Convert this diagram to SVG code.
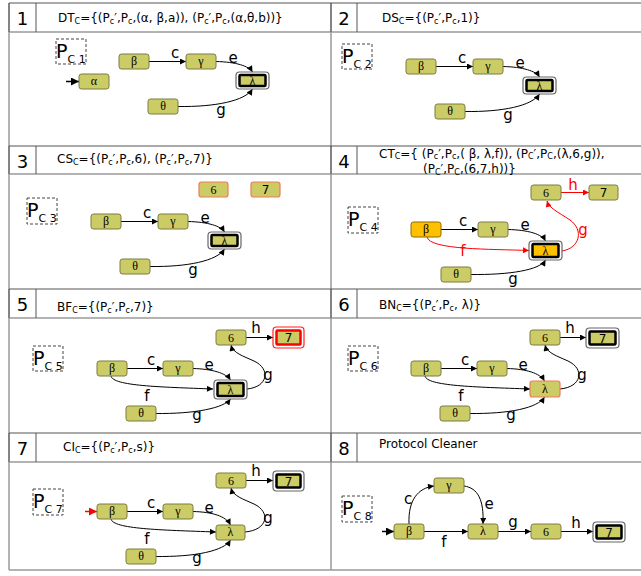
<svg xmlns="http://www.w3.org/2000/svg" width="641" height="576" viewBox="0 0 641 576">
<style>
.bg{fill:#fff}
.grid{stroke:#9a9a9a;stroke-width:1.5;fill:none}
.hdr{stroke:#555;stroke-width:1;fill:none}
.n{fill:#cccc66;stroke:#7a7a40;stroke-width:1}
.no{fill:#ffc000;stroke:#8a6a00;stroke-width:1}
.nr{fill:#cccc66;stroke:#f07a5a;stroke-width:1.2}
.fo{fill:#fff;stroke:#666;stroke-width:1.2}
.fi{fill:#cccc66;stroke:#000;stroke-width:2.5}
.fio{fill:#ffc000;stroke:#000;stroke-width:2.5}
.fro{fill:#fff;stroke:#ff2020;stroke-width:1.2}
.fri{fill:#cccc66;stroke:#ff0000;stroke-width:2.5}
.nt{font-family:"Liberation Serif",serif;font-size:12px;text-anchor:middle}
.ns{font-family:"DejaVu Sans",sans-serif;font-size:12px;text-anchor:middle}
.e{fill:none;stroke:#000;stroke-width:1;marker-end:url(#a)}
.er{fill:none;stroke:#ff0000;stroke-width:1;marker-end:url(#ar)}
.l{font-family:"DejaVu Sans",sans-serif;font-size:15px;text-anchor:middle}
.lr{font-family:"DejaVu Sans",sans-serif;font-size:15px;text-anchor:middle;fill:#ff0000}
.h{font-family:"DejaVu Sans",sans-serif;font-size:12px}
.num{font-family:"DejaVu Sans",sans-serif;font-size:18px;text-anchor:middle}
.pc{fill:none;stroke:#444;stroke-width:1;stroke-dasharray:3,2}
.pP{font-family:"DejaVu Sans",sans-serif;font-size:19px}
.pS{font-size:11px}
</style>
<defs>
<marker id="a" viewBox="0 0 10 10" refX="10" refY="5" markerWidth="7" markerHeight="6" markerUnits="userSpaceOnUse" orient="auto"><path d="M0,0 L10,5 L0,10 z" fill="#000"/></marker>
<marker id="ar" viewBox="0 0 10 10" refX="10" refY="5" markerWidth="7" markerHeight="6" markerUnits="userSpaceOnUse" orient="auto"><path d="M0,0 L10,5 L0,10 z" fill="#ff0000"/></marker>
<marker id="s" viewBox="0 0 10 10" refX="10" refY="5" markerWidth="8" markerHeight="8" markerUnits="userSpaceOnUse" orient="auto"><path d="M0,0 L10,5 L0,10 z" fill="#000"/></marker>
<marker id="sr" viewBox="0 0 10 10" refX="10" refY="5" markerWidth="8" markerHeight="8" markerUnits="userSpaceOnUse" orient="auto"><path d="M0,0 L10,5 L0,10 z" fill="#ff0000"/></marker>
</defs>
<rect class="bg" x="0" y="0" width="641" height="576"/>

<g id="grid">
<path class="grid" d="M9,3 V570 M331,3 V570 M9,570 H641"/>
<path class="hdr" d="M9,3 H641 M9,146 H641 M9,289 H641 M9,433 H641"/>
<path class="grid" d="M9,32 H641 M9,174 H641 M9,318 H641 M9,462 H641"/>
<path class="hdr" d="M36,3 V32 M357,3 V32 M36,146 V174 M357,146 V174 M36,289 V318 M357,289 V318 M36,433 V462 M357,433 V462 M9,3 V32 M9,146 V174 M9,289 V318 M9,433 V462 M331,3 V32 M331,146 V174 M331,289 V318 M331,433 V462"/>
</g>

<g id="headers">
<text class="num" x="22.5" y="25">1</text>
<text class="num" x="344" y="25">2</text>
<text class="num" x="22.5" y="168">3</text>
<text class="num" x="344" y="168">4</text>
<text class="num" x="22.5" y="311">5</text>
<text class="num" x="344" y="311">6</text>
<text class="num" x="22.5" y="455">7</text>
<text class="num" x="344" y="455">8</text>
<text class="h" x="58" y="22">DT<tspan font-size="8" dy="2">C</tspan><tspan dy="-2">={(P</tspan><tspan font-size="8" dy="2">c</tspan><tspan dy="-2">′,P</tspan><tspan font-size="8" dy="2">c</tspan><tspan dy="-2">,(α, β,a)), (P</tspan><tspan font-size="8" dy="2">c</tspan><tspan dy="-2">′,P</tspan><tspan font-size="8" dy="2">c</tspan><tspan dy="-2">,(α,θ,b))}</tspan></text>
<text class="h" x="382" y="22">DS<tspan font-size="8" dy="2">C</tspan><tspan dy="-2">={(P</tspan><tspan font-size="8" dy="2">c</tspan><tspan dy="-2">′,P</tspan><tspan font-size="8" dy="2">c</tspan><tspan dy="-2">,1)}</tspan></text>
<text class="h" x="57" y="163">CS<tspan font-size="8" dy="2">C</tspan><tspan dy="-2">={(P</tspan><tspan font-size="8" dy="2">c</tspan><tspan dy="-2">′,P</tspan><tspan font-size="8" dy="2">c</tspan><tspan dy="-2">,6), (P</tspan><tspan font-size="8" dy="2">c</tspan><tspan dy="-2">′,P</tspan><tspan font-size="8" dy="2">c</tspan><tspan dy="-2">,7)}</tspan></text>
<text class="h" x="379" y="157.5">CT<tspan font-size="8" dy="1.5">C</tspan><tspan dy="-1.5">={ (P</tspan><tspan font-size="8" dy="1.5">c</tspan><tspan dy="-1.5">′,P</tspan><tspan font-size="8" dy="1.5">c</tspan><tspan dy="-1.5">,( β, λ,f)), (P</tspan><tspan font-size="8" dy="1.5">C</tspan><tspan dy="-1.5">′,P</tspan><tspan font-size="8" dy="1.5">C</tspan><tspan dy="-1.5">,(λ,6,g)),</tspan></text>
<text class="h" x="423" y="173">(P<tspan font-size="8" dy="1.5">C</tspan><tspan dy="-1.5">′,P</tspan><tspan font-size="8" dy="1.5">C</tspan><tspan dy="-1.5">,(6,7,h))}</tspan></text>
<text class="h" x="57" y="311">BF<tspan font-size="8" dy="2">C</tspan><tspan dy="-2">={(P</tspan><tspan font-size="8" dy="2">c</tspan><tspan dy="-2">′,P</tspan><tspan font-size="8" dy="2">c</tspan><tspan dy="-2">,7)}</tspan></text>
<text class="h" x="379" y="309">BN<tspan font-size="8" dy="2">C</tspan><tspan dy="-2">={(P</tspan><tspan font-size="8" dy="2">c</tspan><tspan dy="-2">′,P</tspan><tspan font-size="8" dy="2">c</tspan><tspan dy="-2">, λ)}</tspan></text>
<text class="h" x="63" y="451">CI<tspan font-size="8" dy="2">C</tspan><tspan dy="-2">={(P</tspan><tspan font-size="8" dy="2">c</tspan><tspan dy="-2">′,P</tspan><tspan font-size="8" dy="2">c</tspan><tspan dy="-2">,s)}</tspan></text>
<text class="h" x="379" y="448">Protocol Cleaner</text>
</g>

<!-- Panel 1 -->
<g id="panel1">
<g id="p1-connectors">
<path class="e" d="M66,81.5 L79,81.5" style="marker-end:url(#s);stroke-width:1.5"/>
<path class="e" d="M149,61.5 L186,61.5"/>
<path class="e" d="M216,61.5 C236,62 249,66 252.5,72"/>
<path class="e" d="M178,106.5 C215,107 245,101 252.5,89"/>
<text class="l" x="175" y="58">c</text>
<text class="l" x="233" y="63">e</text>
<text class="l" x="221" y="115">g</text>
</g>
<g id="p1-pc"><rect class="pc" x="56" y="39" width="30" height="25"/><text class="pP" x="56" y="58">P<tspan class="pS" dy="5">C 1</tspan></text></g>
<g id="p1-alpha"><rect class="n" x="79" y="74" width="30" height="15" rx="2.5"/><text class="nt" x="94" y="85">α</text></g>
<g id="p1-beta"><rect class="n" x="119" y="54" width="30" height="15" rx="2.5"/><text class="nt" x="134" y="65">β</text></g>
<g id="p1-gamma"><rect class="n" x="186" y="54" width="30" height="15" rx="2.5"/><text class="nt" x="201" y="65">γ</text></g>
<g id="p1-lambda"><rect class="fo" x="236" y="72" width="33" height="17" rx="3.5"/><rect class="fi" x="239.5" y="75" width="26" height="11" rx="1"/><text class="nt" x="252.5" y="84.5">λ</text></g>
<g id="p1-theta"><rect class="n" x="148" y="99" width="30" height="15" rx="2.5"/><text class="nt" x="163" y="110">θ</text></g>
</g>

<!-- Panel 2 -->
<g id="panel2" transform="translate(287,5)">
<g id="p2-connectors">
<path class="e" d="M149,61.5 L186,61.5"/>
<path class="e" d="M216,61.5 C236,62 249,66 252.5,72"/>
<path class="e" d="M178,106.5 C215,107 245,101 252.5,89"/>
<text class="l" x="175" y="58">c</text>
<text class="l" x="233" y="63">e</text>
<text class="l" x="221" y="115">g</text>
</g>
<g id="p2-pc"><rect class="pc" x="55" y="39" width="30" height="25"/><text class="pP" x="55" y="58">P<tspan class="pS" dy="5">C 2</tspan></text></g>
<g id="p2-beta"><rect class="n" x="119" y="54" width="30" height="15" rx="2.5"/><text class="nt" x="134" y="65">β</text></g>
<g id="p2-gamma"><rect class="n" x="186" y="54" width="30" height="15" rx="2.5"/><text class="nt" x="201" y="65">γ</text></g>
<g id="p2-lambda"><rect class="fo" x="236" y="72" width="33" height="17" rx="3.5"/><rect class="fi" x="239.5" y="75" width="26" height="11" rx="1"/><text class="nt" x="252.5" y="84.5">λ</text></g>
<g id="p2-theta"><rect class="n" x="148" y="99" width="30" height="15" rx="2.5"/><text class="nt" x="163" y="110">θ</text></g>
</g>

<!-- Panel 3 -->
<g id="panel3" transform="translate(-28,160)">
<g id="p3-connectors">
<path class="e" d="M149,61.5 L186,61.5"/>
<path class="e" d="M216,61.5 C236,62 249,66 252.5,72"/>
<path class="e" d="M178,106.5 C215,107 245,101 252.5,89"/>
<text class="l" x="175" y="58">c</text>
<text class="l" x="233" y="63">e</text>
<text class="l" x="221" y="115">g</text>
</g>
<g id="p3-pc"><rect class="pc" x="55" y="38" width="30" height="26"/><text class="pP" x="55" y="57">P<tspan class="pS" dy="5">C 3</tspan></text></g>
<g id="p3-beta"><rect class="n" x="119" y="54" width="30" height="15" rx="2.5"/><text class="nt" x="134" y="65">β</text></g>
<g id="p3-gamma"><rect class="n" x="186" y="54" width="30" height="15" rx="2.5"/><text class="nt" x="201" y="65">γ</text></g>
<g id="p3-lambda"><rect class="fo" x="236" y="72" width="33" height="17" rx="3.5"/><rect class="fi" x="239.5" y="75" width="26" height="11" rx="1"/><text class="nt" x="252.5" y="84.5">λ</text></g>
<g id="p3-theta"><rect class="n" x="148" y="99" width="30" height="15" rx="2.5"/><text class="nt" x="163" y="110">θ</text></g>
<g id="p3-6"><rect class="nr" x="227" y="22" width="29" height="15" rx="2.5"/><text class="nt" x="241.5" y="33.5">6</text></g>
<g id="p3-7"><rect class="nr" x="279" y="22" width="29" height="15" rx="2.5"/><text class="ns" x="293.5" y="34">7</text></g>
</g>

<!-- Panel 4 -->
<g id="panel4">
<g id="p4-connectors">
<path class="e" d="M441,229.5 L478,229.5"/>
<path class="e" d="M508,229.5 C528,230 542,234 545.5,241"/>
<path class="e" d="M470,274.5 C510,275 540,270 545.5,260"/>
<path class="er" d="M427,237 C430,250 490,249 529,250.5"/>
<path class="er" d="M562,251 C580,248 584,230 570,220 C558,212 549,208 547,201"/>
<path class="er" d="M561,192.5 L589,192.5"/>
<text class="l" x="463" y="226">c</text>
<text class="l" x="525" y="230">e</text>
<text class="lr" x="463" y="256">f</text>
<text class="l" x="513" y="284">g</text>
<text class="lr" x="583" y="235">g</text>
<text class="lr" x="573" y="190">h</text>
</g>
<g id="p4-pc"><rect class="pc" x="348" y="207" width="30" height="26"/><text class="pP" x="348" y="226">P<tspan class="pS" dy="5">C 4</tspan></text></g>
<g id="p4-beta"><rect class="no" x="411" y="222" width="30" height="15" rx="2.5"/><text class="nt" x="426" y="233">β</text></g>
<g id="p4-gamma"><rect class="n" x="478" y="222" width="30" height="15" rx="2.5"/><text class="nt" x="493" y="233">γ</text></g>
<g id="p4-lambda"><rect class="fo" x="529" y="241" width="33" height="19" rx="3.5"/><rect class="fio" x="532.5" y="244" width="26" height="13" rx="1"/><text class="nt" x="545.5" y="254.5">λ</text></g>
<g id="p4-theta"><rect class="n" x="441" y="267" width="30" height="15" rx="2.5"/><text class="nt" x="456" y="278">θ</text></g>
<g id="p4-6"><rect class="n" x="531" y="185" width="30" height="15" rx="2.5"/><text class="nt" x="546" y="196.5">6</text></g>
<g id="p4-7"><rect class="n" x="589" y="185" width="29" height="15" rx="2.5"/><text class="ns" x="603.5" y="197">7</text></g>
</g>

<!-- Panel 5 -->
<g id="panel5">
<g id="p5-connectors">
<path class="e" d="M127,368.5 L163,368.5"/>
<path class="e" d="M193,368.5 C212,369 226,373 230.5,380"/>
<path class="e" d="M111,376 C113,386 160,387 213,389"/>
<path class="e" d="M155,413.5 C195,414 224,408 230.5,399"/>
<path class="e" d="M247,389 C268,387 271,369 254,361 C243,356 233,353 231,345"/>
<path class="e" d="M246,337.5 L273,337.5"/>
<text class="l" x="151" y="365">c</text>
<text class="l" x="209" y="370">e</text>
<text class="l" x="147" y="401">f</text>
<text class="l" x="197" y="420">g</text>
<text class="l" x="268" y="380">g</text>
<text class="l" x="256" y="333">h</text>
</g>
<g id="p5-pc"><rect class="pc" x="33" y="346" width="30" height="25"/><text class="pP" x="33" y="365">P<tspan class="pS" dy="5">C 5</tspan></text></g>
<g id="p5-beta"><rect class="n" x="97" y="361" width="30" height="15" rx="2.5"/><text class="nt" x="112" y="372">β</text></g>
<g id="p5-gamma"><rect class="n" x="163" y="361" width="30" height="15" rx="2.5"/><text class="nt" x="178" y="372">γ</text></g>
<g id="p5-lambda"><rect class="fo" x="214" y="380" width="33" height="19" rx="3.5"/><rect class="fi" x="217.5" y="383" width="26" height="13" rx="1"/><text class="nt" x="230.5" y="393.5">λ</text></g>
<g id="p5-theta"><rect class="n" x="126" y="406" width="30" height="15" rx="2.5"/><text class="nt" x="141" y="417">θ</text></g>
<g id="p5-6"><rect class="n" x="216" y="330" width="30" height="15" rx="2.5"/><text class="nt" x="231" y="341.5">6</text></g>
<g id="p5-7"><rect class="fro" x="273" y="327" width="31" height="21" rx="3.5"/><rect class="fri" x="276.5" y="330.5" width="24" height="14" rx="1"/><text class="ns" x="288.5" y="342">7</text></g>
</g>

<!-- Panel 6 -->
<g id="panel6" transform="translate(314,0)">
<g id="p6-connectors">
<path class="e" d="M127,368.5 L163,368.5"/>
<path class="e" d="M193,368.5 C212,369 226,373 230.5,381"/>
<path class="e" d="M111,376 C113,386 160,387 216,389"/>
<path class="e" d="M155,413.5 C195,414 224,408 230.5,397"/>
<path class="e" d="M246,389 C268,387 271,369 254,361 C243,356 233,353 231,345"/>
<path class="e" d="M246,337.5 L272,337.5"/>
<text class="l" x="151" y="365">c</text>
<text class="l" x="209" y="370">e</text>
<text class="l" x="147" y="401">f</text>
<text class="l" x="197" y="420">g</text>
<text class="l" x="268" y="380">g</text>
<text class="l" x="256" y="333">h</text>
</g>
<g id="p6-pc"><rect class="pc" x="34" y="346" width="30" height="25"/><text class="pP" x="34" y="365">P<tspan class="pS" dy="5">C 6</tspan></text></g>
<g id="p6-beta"><rect class="n" x="97" y="361" width="30" height="15" rx="2.5"/><text class="nt" x="112" y="372">β</text></g>
<g id="p6-gamma"><rect class="n" x="163" y="361" width="30" height="15" rx="2.5"/><text class="nt" x="178" y="372">γ</text></g>
<g id="p6-lambda"><rect class="nr" x="216" y="381" width="30" height="16" rx="2.5"/><text class="nt" x="231" y="393">λ</text></g>
<g id="p6-theta"><rect class="n" x="126" y="406" width="30" height="15" rx="2.5"/><text class="nt" x="141" y="417">θ</text></g>
<g id="p6-6"><rect class="n" x="216" y="330" width="30" height="15" rx="2.5"/><text class="nt" x="231" y="341.5">6</text></g>
<g id="p6-7"><rect class="fo" x="272" y="328" width="33" height="20" rx="3.5"/><rect class="fi" x="275.5" y="331.5" width="26" height="13" rx="1"/><text class="ns" x="288.5" y="342.5">7</text></g>
</g>

<!-- Panel 7 -->
<g id="panel7" transform="translate(0,143)">
<g id="p7-connectors">
<path class="er" d="M85,368.5 L97,368.5" style="marker-end:url(#sr);stroke-width:1.5"/>
<path class="e" d="M127,368.5 L163,368.5"/>
<path class="e" d="M193,368.5 C212,369 226,373 230.5,382"/>
<path class="e" d="M111,376 C113,386 160,387 216,389"/>
<path class="e" d="M155,413.5 C195,414 224,408 230.5,397"/>
<path class="e" d="M245,389 C268,387 271,369 254,361 C243,356 233,353 231,345"/>
<path class="e" d="M246,337.5 L273,337.5"/>
<text class="l" x="151" y="365">c</text>
<text class="l" x="209" y="370">e</text>
<text class="l" x="147" y="401">f</text>
<text class="l" x="197" y="420">g</text>
<text class="l" x="268" y="380">g</text>
<text class="l" x="256" y="333">h</text>
</g>
<g id="p7-pc"><rect class="pc" x="33" y="346" width="30" height="26"/><text class="pP" x="33" y="365">P<tspan class="pS" dy="5">C 7</tspan></text></g>
<g id="p7-beta"><rect class="n" x="97" y="361" width="30" height="15" rx="2.5"/><text class="nt" x="112" y="372">β</text></g>
<g id="p7-gamma"><rect class="n" x="163" y="361" width="30" height="15" rx="2.5"/><text class="nt" x="178" y="372">γ</text></g>
<g id="p7-lambda"><rect class="n" x="216" y="382" width="29" height="15" rx="2.5"/><text class="nt" x="230.5" y="393">λ</text></g>
<g id="p7-theta"><rect class="n" x="126" y="406" width="30" height="15" rx="2.5"/><text class="nt" x="141" y="417">θ</text></g>
<g id="p7-6"><rect class="n" x="216" y="330" width="30" height="15" rx="2.5"/><text class="nt" x="231" y="341.5">6</text></g>
<g id="p7-7"><rect class="fo" x="273" y="328" width="31" height="20" rx="3.5"/><rect class="fi" x="276.5" y="331.5" width="24" height="13" rx="1"/><text class="ns" x="288.5" y="342.5">7</text></g>
</g>

<!-- Panel 8 -->
<g id="panel8">
<g id="p8-connectors">
<path class="e" d="M382,531.5 L394,531.5" style="marker-end:url(#s);stroke-width:1.5"/>
<path class="e" d="M409,524 C408,500 418,488 434,486"/>
<path class="e" d="M464,486 C478,488 484,500 483,524"/>
<path class="e" d="M424,531.5 L468,531.5"/>
<path class="e" d="M498,531.5 L531,531.5"/>
<path class="e" d="M561,531.5 L593,531.5"/>
<text class="l" x="408" y="504">c</text>
<text class="l" x="489" y="509">e</text>
<text class="l" x="444" y="547">f</text>
<text class="l" x="513" y="527">g</text>
<text class="l" x="576" y="528">h</text>
</g>
<g id="p8-pc"><rect class="pc" x="342" y="496" width="30" height="26"/><text class="pP" x="342" y="515">P<tspan class="pS" dy="5">C 8</tspan></text></g>
<g id="p8-gamma"><rect class="n" x="434" y="478" width="30" height="15" rx="2.5"/><text class="nt" x="449" y="489">γ</text></g>
<g id="p8-beta"><rect class="n" x="394" y="524" width="30" height="15" rx="2.5"/><text class="nt" x="409" y="535">β</text></g>
<g id="p8-lambda"><rect class="n" x="468" y="524" width="30" height="15" rx="2.5"/><text class="nt" x="483" y="535">λ</text></g>
<g id="p8-6"><rect class="n" x="531" y="524" width="30" height="15" rx="2.5"/><text class="nt" x="546" y="535.5">6</text></g>
<g id="p8-7"><rect class="fo" x="593" y="522" width="32" height="20" rx="3.5"/><rect class="fi" x="596.5" y="525.5" width="25" height="13" rx="1"/><text class="ns" x="609" y="536.5">7</text></g>
</g>
</svg>
